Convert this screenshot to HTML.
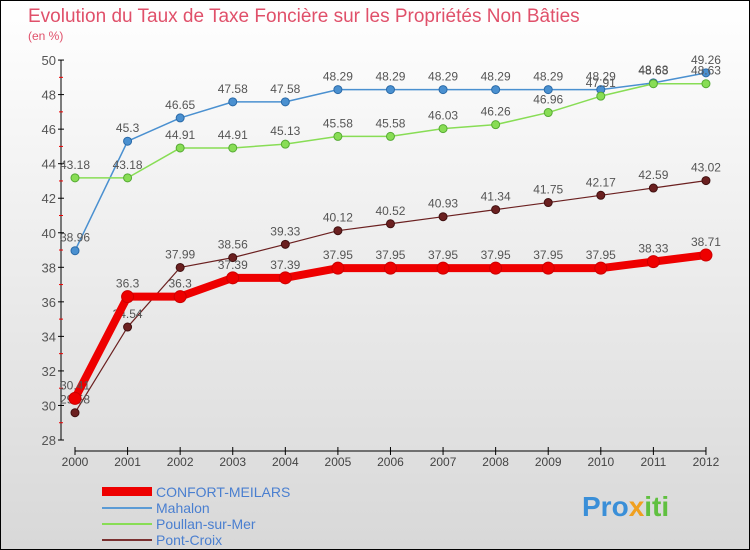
<!DOCTYPE html>
<html><head><meta charset="utf-8"><style>
body{margin:0;width:750px;height:550px;overflow:hidden;font-family:"Liberation Sans",sans-serif}
#c{position:absolute;left:0;top:0;width:748px;height:548px;border:1px solid #000;background:linear-gradient(#fff,#d8d8d8)}
</style></head><body>
<div id="c">
<svg id="s" width="750" height="550" style="position:absolute;left:-1px;top:-1px" font-family="Liberation Sans, sans-serif">
<text x="28" y="22" font-size="19" font-weight="normal" fill="#e0506a">Evolution du Taux de Taxe Foncière sur les Propriétés Non Bâties</text>
<text x="28" y="40" font-size="12" fill="#e0506a">(en %)</text>
<g id="axes"></g><g id="series"></g>
<g>
<rect x="102" y="487" width="50" height="9" fill="#e00"/>
<text x="156" y="497" font-size="14" fill="#4a7fd0">CONFORT-MEILARS</text>
<line x1="102" y1="508" x2="152" y2="508" stroke="#5b9bd5" stroke-width="2"/>
<text x="156" y="513" font-size="14" fill="#4a7fd0">Mahalon</text>
<line x1="102" y1="524" x2="152" y2="524" stroke="#88dd55" stroke-width="2"/>
<text x="156" y="529" font-size="14" fill="#4a7fd0">Poullan-sur-Mer</text>
<line x1="102" y1="540" x2="152" y2="540" stroke="#7a3030" stroke-width="2"/>
<text x="156" y="545" font-size="14" fill="#4a7fd0">Pont-Croix</text>
</g>
<text x="582" y="516" font-size="28" font-weight="bold" fill="#3a8fd8">Pro<tspan fill="#f0a020">x</tspan><tspan fill="#60c040">iti</tspan></text>
</svg></div>
<script>
const years=[2000,2001,2002,2003,2004,2005,2006,2007,2008,2009,2010,2011,2012];
const yTicks=[28,30,32,34,36,38,40,42,44,46,48,50];
const confort=[30.41,36.3,36.3,37.39,37.39,37.95,37.95,37.95,37.95,37.95,37.95,38.33,38.71];
const mahalon=[38.96,45.3,46.65,47.58,47.58,48.29,48.29,48.29,48.29,48.29,48.29,48.68,49.26];
const poullan=[43.18,43.18,44.91,44.91,45.13,45.58,45.58,46.03,46.26,46.96,47.91,48.63,48.63];
const pont=[29.58,34.54,37.99,38.56,39.33,40.12,40.52,40.93,41.34,41.75,42.17,42.59,43.02];
const NS="http://www.w3.org/2000/svg";
const X=i=>75+i*52.58, Y=v=>440-(v-28)*17.27;
function mk(t,a,p){const e=document.createElementNS(NS,t);for(const k in a)e.setAttribute(k,a[k]);p.appendChild(e);return e;}
const ax=document.getElementById('axes'),sr=document.getElementById('series');
let yl=mk('line',{x1:61,y1:60,x2:61,y2:440,stroke:'#000'},ax);

yTicks.forEach(v=>{mk('line',{x1:58,x2:64,y1:Y(v),y2:Y(v),stroke:'#000'},ax);
 if(v<50)mk('line',{x1:59,x2:63,y1:Y(v+1),y2:Y(v+1),stroke:'#e00'},ax);
 const t=mk('text',{x:56,y:Y(v)+5,'font-size':13,fill:'#555','text-anchor':'end'},ax);t.textContent=v;
 });
let xl=mk('line',{x1:75,y1:451,x2:X(12),y2:451,stroke:'#000'},ax);

years.forEach((y,i)=>{mk('line',{x1:X(i),x2:X(i),y1:447,y2:455,stroke:'#000'},ax);
 const t=mk('text',{x:X(i),y:466,'font-size':12,fill:'#444','text-anchor':'middle'},ax);t.textContent=y;
 });
function series(d,col,w,r,name,lc){const g=mk('g',{},sr);
 
 mk('polyline',{points:d.map((v,i)=>X(i)+','+Y(v)).join(' '),fill:'none',stroke:col,'stroke-width':w,'stroke-linejoin':'round'},g);
 d.forEach((v,i)=>{const c=mk('circle',{cx:X(i),cy:Y(v),r:r,fill:col,stroke:lc,'stroke-width':1},g);
  
  const t=mk('text',{x:X(i),y:Y(v)-9,'font-size':12,fill:'#555','text-anchor':'middle'},g);t.textContent=v;});}
series(pont,'#6b2020',1.2,4,'pont-croix','#401010');
series(mahalon,'#4a90d0',1.5,4,'mahalon','#2a6aa8');
series(poullan,'#88dd55',1.5,4,'poullan','#55aa33');
series(confort,'#ee0000',8,6,'confort','#cc0000');
</script></body></html>
